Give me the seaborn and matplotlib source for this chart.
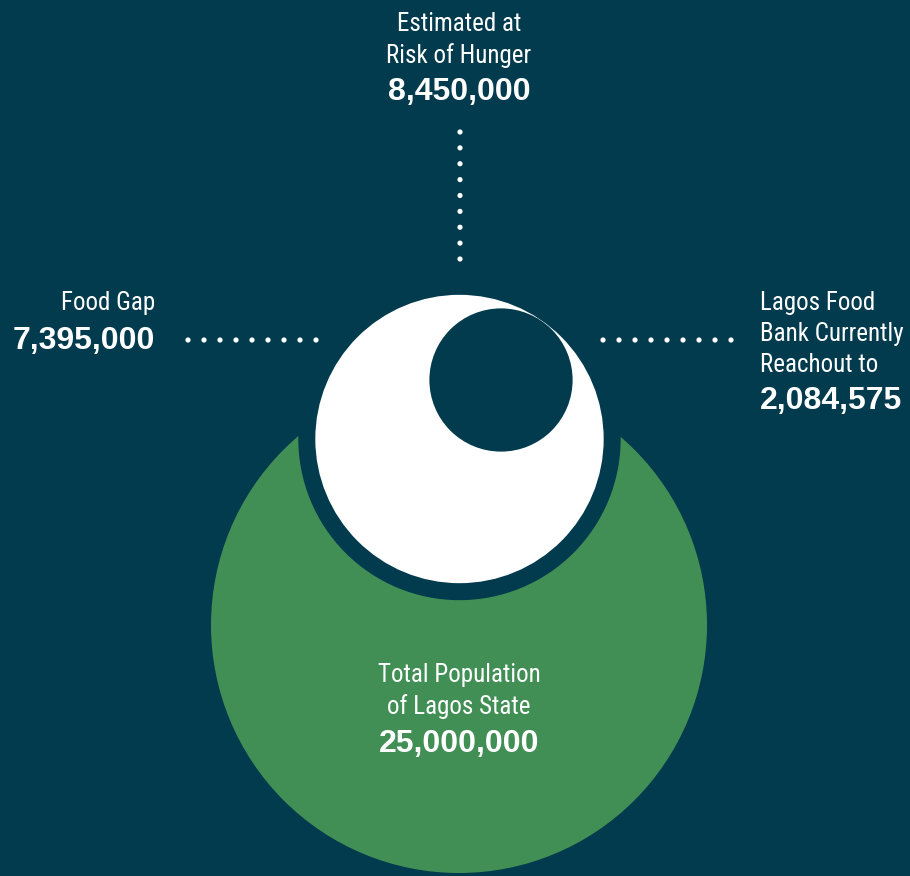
import numpy as np
import pandas as pd
import matplotlib.pyplot as plt
from matplotlib.patches import Circle
import seaborn as sns

sns.set_theme(style='white')
plt.rcParams['font.family'] = ['Roboto Condensed', 'Archivo Narrow', 'DejaVu Sans']

# data
labels = ['Total Population\nof Lagos State', 'Estimated at\nRisk of Hunger',
          'Lagos Food\nBank Currently\nReachout to', 'Food Gap']
values = [25000000, 8450000, 2084575, 7395000]

bg = '#023b4d'
green = '#428f56'

# circle area proportional to value
max_r = 248
radii = [max_r * np.sqrt(v / values[0]) for v in values[:3]]

fig = plt.figure(figsize=(9.1, 8.76), dpi=100, facecolor=bg)
ax = fig.add_axes([0, 0, 1, 1])
ax.set_facecolor(bg)
ax.set_xlim(0, 910)
ax.set_ylim(876, 0)
ax.set_aspect('equal')
ax.axis('off')

# big green circle
ax.add_patch(Circle((459, 625), radii[0], color=green, lw=0))
# white circle with dark ring
ax.add_patch(Circle((459.5, 439), radii[1] + 17, color=bg, lw=0))
ax.add_patch(Circle((459.5, 439), radii[1], color='white', lw=0))
# small circle
ax.add_patch(Circle((501, 380), radii[2], color=bg, lw=0))

# dotted leaders
dots = pd.DataFrame({
    'x': list(np.full(9, 460.0)) + list(np.linspace(188, 316, 9)) + list(np.linspace(603, 731, 9)),
    'y': list(np.linspace(132, 259, 9)) + [340] * 9 + [340] * 9,
})
sns.scatterplot(data=dots, x='x', y='y', ax=ax, color='white', s=14, edgecolor='none', legend=False)

fmt = lambda v: f'{v:,}'
reg = dict(color='white', fontsize=18, linespacing=1.38)
big = dict(color='white', fontsize=23, fontweight='bold', family=['Liberation Sans', 'DejaVu Sans'])

# top
ax.text(459, 63, labels[1], ha='center', va='baseline', **reg)
ax.text(459, 100, fmt(values[1]), ha='center', va='baseline', **big)
# left
ax.text(155, 310, labels[3], ha='right', va='baseline', **reg)
ax.text(155, 349, fmt(values[3]), ha='right', va='baseline', **big)
# right
ax.text(760, 372, labels[2], ha='left', va='baseline', **reg)
ax.text(760, 409, fmt(values[2]), ha='left', va='baseline', **big)
# center
ax.text(459, 714, labels[0], ha='center', va='baseline', **reg)
ax.text(459, 752, fmt(values[0]), ha='center', va='baseline', **big)

fig.savefig('out.png', dpi=100, facecolor=bg)
